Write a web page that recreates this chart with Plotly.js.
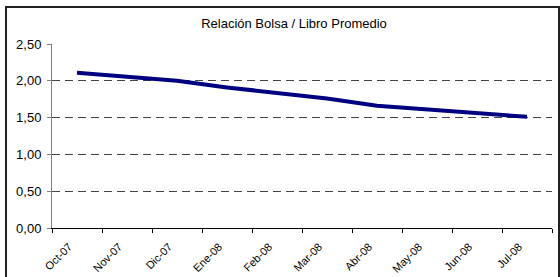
<!DOCTYPE html>
<html>
<head>
<meta charset="utf-8">
<script src="https://cdn.plot.ly/plotly-3.0.1.min.js"></script>
<style>html,body{margin:0;padding:0;background:#fff;}#chart{width:560px;height:277px;}</style>
</head>
<body>
<div id="chart"></div>
<script>
const months = ["Oct-07","Nov-07","Dic-07","Ene-08","Feb-08","Mar-08","Abr-08","May-08","Jun-08","Jul-08"];
const ratio = [2.11, 2.06, 2.00, 1.91, 1.84, 1.76, 1.66, 1.61, 1.56, 1.51];
const chartTitle = "Relación Bolsa / Libro Promedio";

const trace = {
  x: months, y: ratio, type: "scatter", mode: "lines",
  line: {color: "#000080", width: 4}, hoverinfo: "skip"
};
const layout = {
  width: 560, height: 277,
  margin: {l: 52, r: 8, t: 44, b: 49},
  paper_bgcolor: "#fff", plot_bgcolor: "#fff",
  separators: ",.",
  font: {family: "Liberation Sans, Arial, sans-serif", size: 13, color: "#000"},
  showlegend: false,
  title: {text: chartTitle, font: {size: 13, color: "#000"}, x: 0.525, xanchor: "center",
          y: 1 - 23/277, yref: "container", yanchor: "middle"},
  xaxis: {
    type: "category", range: [-0.5, 9.5], tickson: "boundaries",
    showgrid: false, showline: true, linecolor: "#000", linewidth: 1,
    ticks: "outside", ticklen: 4, tickcolor: "#000", tickangle: -45,
    tickfont: {size: 11}, ticklabelstandoff: 7, ticklabelshift: -8,
    fixedrange: true, zeroline: false
  },
  yaxis: {
    range: [0, 2.5], tickvals: [0, 0.5, 1, 1.5, 2, 2.5], tickformat: ".2f",
    showgrid: true, gridcolor: "#444", gridwidth: 1, griddash: "8px,5px",
    showline: true, linecolor: "#808080", linewidth: 1,
    ticks: "outside", ticklen: 4, tickcolor: "#808080",
    zeroline: false, fixedrange: true, ticklabelstandoff: 3
  },
  shapes: [{
    type: "rect", xref: "paper", yref: "paper",
    x0: (6-52)/500, x1: (559-52)/500, y0: -0.4, y1: (228-7)/184,
    line: {color: "#222", width: 2}, fillcolor: "rgba(0,0,0,0)", layer: "below"
  }]
};
Plotly.newPlot("chart", [trace], layout, {staticPlot: true, displayModeBar: false});
</script>
</body>
</html>
